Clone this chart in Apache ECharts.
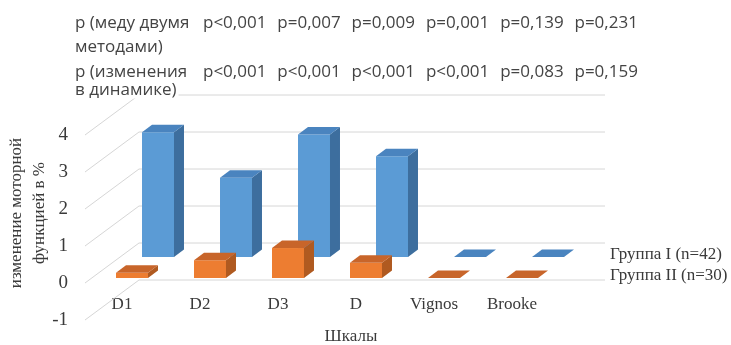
<!DOCTYPE html>
<html>
<head>
<meta charset="utf-8">
<script src="https://cdn.jsdelivr.net/npm/echarts@6/dist/echarts.min.js"></script>
<style>
  html, body { margin: 0; padding: 0; background: #fff; }
  #chart { width: 731px; height: 345px; }
</style>
</head>
<body>
<div id="chart"></div>
<script>
// Scales and the two study groups
const categories = ['D1', 'D2', 'D3', 'D', 'Vignos', 'Brooke'];
const groupNames = ['Группа I (n=42)', 'Группа II (n=30)'];
const groupI = [3.37, 2.14, 3.31, 2.72, 0, 0];
const groupII = [0.14, 0.48, 0.81, 0.41, 0, 0];
const yTicks = [-1, 0, 1, 2, 3, 4];

// p-value table above the plot
const pBetweenLabel = ['p (меду двумя', 'методами)'];
const pBetween = ['p<0,001', 'p=0,007', 'p=0,009', 'p=0,001', 'p=0,139', 'p=0,231'];
const pDynamicsLabel = ['p (изменения', 'в динамике)'];
const pDynamics = ['p<0,001', 'p<0,001', 'p<0,001', 'p<0,001', 'p=0,083', 'p=0,159'];

const yAxisTitle = ['изменение моторной', 'функцией в %'];
const xAxisTitle = 'Шкалы';

// Pseudo-3D geometry (pixels)
const WALL_DX = 54, WALL_DY = -40;      // depth of floor / side wall
const BAR_DX = 10, BAR_DY = -7.5;       // depth of a single column
const ROW_OFFSET = [[36, -26], [10, -5]]; // back row (I), front row (II)
const BAR_WIDTH_RATIO = 0.41;

const SERIF = '"Liberation Serif", "Times New Roman", serif';
const SANS = '"Open Sans", "Noto Sans", sans-serif';
const TEXT_COLOR = '#3a3a3a';
const GRID_COLOR = '#d6d6d6';

const palette = [
  { front: '#5b9bd5', side: '#3d6e9e', top: '#4a84bf' },
  { front: '#ed7d31', side: '#b05a20', top: '#c8652a' }
];

function renderWall(params, api) {
  const v = api.value(1);
  const cs = params.coordSys;
  const y = api.coord([0, v])[1];
  const x0 = cs.x + 2;
  const x1 = cs.x + cs.width;
  return {
    type: 'polyline',
    silent: true,
    shape: { points: [[x0, y], [x0 + WALL_DX, y + WALL_DY], [x1 + WALL_DX, y + WALL_DY]] },
    style: { stroke: GRID_COLOR, lineWidth: 1, fill: null }
  };
}

function makeBarRenderer(rowIndex) {
  const off = ROW_OFFSET[rowIndex];
  const c = palette[rowIndex];
  return function (params, api) {
    const i = api.value(0);
    const v = api.value(1);
    const base = api.coord([i, 0]);
    const top = api.coord([i, v]);
    const w = api.size([1, 0])[0] * BAR_WIDTH_RATIO;
    const cx = base[0] + off[0];
    const y0 = base[1] + off[1];
    const y1 = top[1] + off[1];
    const l = cx - w / 2, r = cx + w / 2;
    return {
      type: 'group',
      children: [
        { type: 'polygon', shape: { points: [[l, y1], [r, y1], [r, y0], [l, y0]] }, style: { fill: c.front } },
        { type: 'polygon', shape: { points: [[r, y1], [r + BAR_DX, y1 + BAR_DY], [r + BAR_DX, y0 + BAR_DY], [r, y0]] }, style: { fill: c.side } },
        { type: 'polygon', shape: { points: [[l, y1], [l + BAR_DX, y1 + BAR_DY], [r + BAR_DX, y1 + BAR_DY], [r, y1]] }, style: { fill: c.top } }
      ]
    };
  };
}

// Table text
const tableGraphics = [];
const colX0 = 203, colStep = 74.3;
const rowY = [23, 47, 72, 90];
function addText(x, y, text, extra) {
  tableGraphics.push({
    type: 'text', x: x, y: y, z: 10,
    style: Object.assign({ text: text, font: '17px ' + SANS, fill: '#444', verticalAlign: 'middle' }, extra || {})
  });
}
addText(75, rowY[0], pBetweenLabel[0]);
addText(75, rowY[1], pBetweenLabel[1]);
addText(75, rowY[2], pDynamicsLabel[0]);
addText(75, rowY[3], pDynamicsLabel[1], { backgroundColor: '#fff', padding: [0, 2, 0, 0] });
pBetween.forEach((t, i) => addText(colX0 + i * colStep, rowY[0], t));
pDynamics.forEach((t, i) => addText(colX0 + i * colStep, rowY[2], t));

// Axis titles
tableGraphics.push({
  type: 'text', x: 28, y: 213, rotation: Math.PI / 2,
  style: { text: yAxisTitle.join('\n'), font: '17px ' + SERIF, fill: TEXT_COLOR, align: 'center', verticalAlign: 'middle', lineHeight: 23 }
});
tableGraphics.push({
  type: 'text', x: 351, y: 337,
  style: { text: xAxisTitle, font: '17px ' + SERIF, fill: TEXT_COLOR, align: 'center', verticalAlign: 'middle' }
});
// Depth-axis (series) labels
groupNames.forEach((name, k) => {
  tableGraphics.push({
    type: 'text', x: 610, y: [255, 276][k],
    style: { text: name, font: '17px ' + SERIF, fill: TEXT_COLOR, verticalAlign: 'middle' }
  });
});

const chart = echarts.init(document.getElementById('chart'), null, { renderer: 'canvas' });
chart.setOption({
  animation: false,
  backgroundColor: '#fff',
  grid: { left: 83, width: 468, top: 135, height: 185, containLabel: false },
  xAxis: {
    type: 'category',
    data: categories,
    axisLine: { show: false, onZero: false },
    axisTick: { show: false },
    splitLine: { show: false },
    axisLabel: { margin: -24, fontFamily: SERIF, fontSize: 17, color: TEXT_COLOR }
  },
  yAxis: {
    type: 'value',
    min: -1, max: 4, interval: 1,
    axisLine: { show: false },
    axisTick: { show: false },
    splitLine: { show: false },
    axisLabel: { margin: 15, fontFamily: SERIF, fontSize: 19, color: TEXT_COLOR }
  },
  series: [
    {
      type: 'custom', name: 'walls', silent: true, z: 1,
      data: yTicks.map(v => [0, v]),
      encode: { x: 0, y: 1 },
      renderItem: renderWall
    },
    {
      type: 'custom', name: groupNames[0], z: 2,
      data: groupI.map((v, i) => [i, v]),
      encode: { x: 0, y: 1 },
      renderItem: makeBarRenderer(0)
    },
    {
      type: 'custom', name: groupNames[1], z: 3,
      data: groupII.map((v, i) => [i, v]),
      encode: { x: 0, y: 1 },
      renderItem: makeBarRenderer(1)
    }
  ],
  graphic: tableGraphics
});
</script>
</body>
</html>
